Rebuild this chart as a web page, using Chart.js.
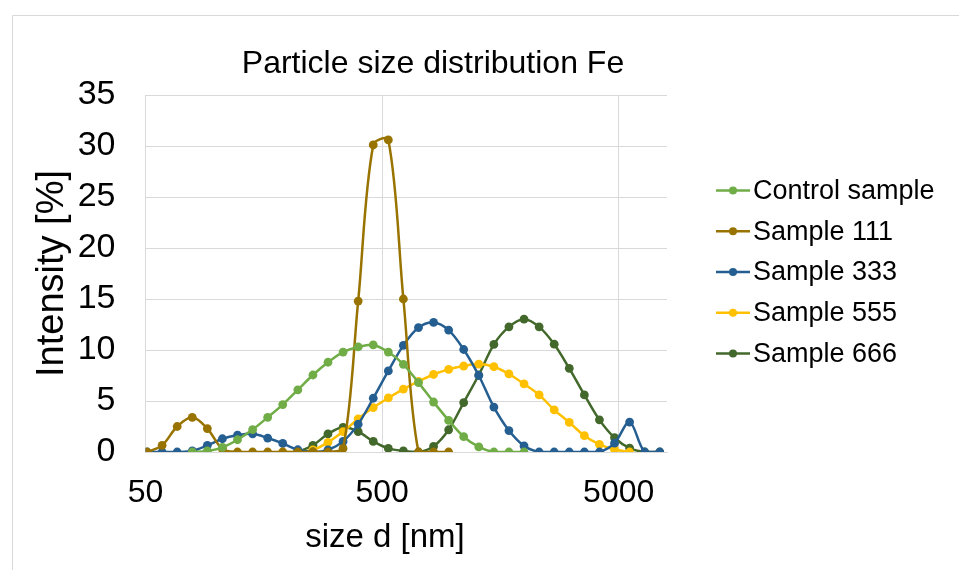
<!DOCTYPE html>
<html>
<head>
<meta charset="utf-8">
<title>Particle size distribution Fe</title>
<script src="https://cdn.jsdelivr.net/npm/chart.js@4/dist/chart.umd.min.js"></script>
<style>
  html, body { margin: 0; padding: 0; background: #ffffff; }
  #wrap { width: 959px; height: 570px; }
</style>
</head>
<body>
<div id="wrap"><canvas id="psd" width="959" height="570"></canvas></div>
<script>
// Size classes d [nm] (logarithmic bins)
const sizes = [50.75, 58.77, 68.06, 78.82, 91.28, 105.7, 122.4, 141.8, 164.2, 190.1,
               220.2, 255.0, 295.3, 342.0, 396.1, 458.7, 531.2, 615.1, 712.4, 825.0,
               955.4, 1106, 1281, 1484, 1718, 1990, 2305, 2669, 3091, 3580,
               4145, 4801, 5560, 6439, 7456];

// Intensity [%] per size class; null = no reading in that class
const controlSample = [null, null, null, 0, 0.1, 0.45, 1.2, 2.2, 3.4, 4.65,
                       6.1, 7.55, 8.8, 9.8, 10.3, 10.5, 9.8, 8.6, 6.8, 4.9,
                       3.1, 1.5, 0.5, 0, 0, 0, null, null, null, null,
                       null, null, null, null, null];
const sample111 = [0, 0.65, 2.5, 3.4, 2.3, 0.3, 0, 0, 0, 0,
                   0, 0, 0, 0.35, 14.8, 30.1, 30.6, 15.0, 0, 0,
                   0, null, null, null, null, null, null, null, null, null,
                   null, null, null, null, null];
const sample333 = [0, 0, 0, 0.1, 0.65, 1.3, 1.65, 1.78, 1.37, 0.84,
                   0.22, 0, 0.2, 1.04, 2.73, 5.27, 7.95, 10.45, 12.2, 12.7,
                   11.95, 10.05, 7.5, 4.4, 2.1, 0.6, 0, 0, 0, 0,
                   0, 0.87, 2.93, 0, 0];
const sample555 = [null, null, null, null, null, null, null, null, null, 0,
                   0, 0.2, 0.95, 2.0, 3.25, 4.36, 5.3, 6.17, 6.93, 7.6,
                   8.1, 8.43, 8.62, 8.36, 7.65, 6.67, 5.6, 4.13, 2.9, 1.6,
                   0.75, 0.25, 0, null, null];
const sample666 = [null, null, null, null, null, null, null, null, null, null,
                   0, 0.65, 1.77, 2.42, 2.0, 1.04, 0.35, 0.1, 0, 0.55,
                   2.18, 4.85, 7.55, 10.55, 12.27, 13.02, 12.27, 10.57, 8.2, 5.6,
                   3.15, 1.4, 0.38, 0, 0];

const seriesNames = ['Control sample', 'Sample 111', 'Sample 333', 'Sample 555', 'Sample 666'];
const seriesValues = [controlSample, sample111, sample333, sample555, sample666];
const seriesColors = ['#70AD47', '#997300', '#255E91', '#FFC000', '#43682B'];

const xTickValues = [50, 500, 5000];
const yTickStep = 5;

const FONT = "'Liberation Sans', Arial, sans-serif";

function toPoints(values) {
  const pts = [];
  values.forEach((v, i) => { if (v !== null) pts.push({ x: sizes[i], y: v }); });
  return pts;
}

const datasets = seriesNames.map((name, k) => ({
  label: name,
  data: toPoints(seriesValues[k]),
  borderColor: seriesColors[k],
  backgroundColor: seriesColors[k],
  borderWidth: 2.5,
  pointRadius: 4.4,
  pointHoverRadius: 4.4,
  pointBorderWidth: 0,
  tension: 0.33,
  fill: false
}));

// Outer frame of the chart object (left and top edges)
const framePlugin = {
  id: 'frame',
  beforeDraw(chart) {
    const ctx = chart.ctx;
    ctx.save();
    ctx.fillStyle = '#ffffff';
    ctx.fillRect(0, 0, chart.width, chart.height);
    ctx.strokeStyle = '#d9d9d9';
    ctx.lineWidth = 1;
    ctx.beginPath();
    ctx.moveTo(12.5, chart.height);
    ctx.lineTo(12.5, 15.5);
    ctx.lineTo(chart.width, 15.5);
    ctx.stroke();
    ctx.restore();
  }
};

// Chart title and horizontal axis title
const titlesPlugin = {
  id: 'titles',
  afterDraw(chart) {
    const ctx = chart.ctx;
    ctx.save();
    ctx.fillStyle = '#000000';
    ctx.textAlign = 'center';
    ctx.textBaseline = 'middle';
    ctx.font = '32px ' + FONT;
    ctx.fillText('Particle size distribution Fe', 433, 64);
    ctx.font = '33px ' + FONT;
    ctx.fillText('size d [nm]', 385, 538);
    ctx.restore();
  }
};

// Legend on the right: line with marker, then series name
const legendPlugin = {
  id: 'lineLegend',
  afterDraw(chart) {
    const ctx = chart.ctx;
    const area = chart.chartArea;
    const rowGap = 40.8;
    const n = chart.data.datasets.length;
    const x0 = area.right + 49;
    const yMid = (area.top + area.bottom) / 2;
    ctx.save();
    chart.data.datasets.forEach((ds, i) => {
      const y = yMid + (i - (n - 1) / 2) * rowGap - 1.5;
      ctx.strokeStyle = ds.borderColor;
      ctx.lineWidth = 2.5;
      ctx.beginPath();
      ctx.moveTo(x0, y);
      ctx.lineTo(x0 + 34, y);
      ctx.stroke();
      ctx.fillStyle = ds.borderColor;
      ctx.beginPath();
      ctx.arc(x0 + 17, y, 4, 0, Math.PI * 2);
      ctx.fill();
      ctx.fillStyle = '#000000';
      ctx.font = '27px ' + FONT;
      ctx.textAlign = 'left';
      ctx.textBaseline = 'middle';
      ctx.fillText(ds.label, x0 + 37, y + 1);
    });
    ctx.restore();
  }
};

new Chart(document.getElementById('psd'), {
  type: 'line',
  data: { datasets },
  options: {
    responsive: false,
    animation: false,
    devicePixelRatio: 1,
    layout: { padding: { left: 30, top: 95, right: 292, bottom: 0 } },
    plugins: {
      legend: { display: false },
      title: { display: false },
      tooltip: { enabled: false }
    },
    scales: {
      x: {
        type: 'logarithmic',
        min: 50,
        max: 8000,
        afterBuildTicks(scale) {
          scale.ticks = xTickValues.map(v => ({ value: v }));
        },
        afterFit(scale) { scale.height = 118; },
        ticks: {
          autoSkip: false,
          maxRotation: 0,
          padding: 22,
          color: '#000000',
          font: { family: FONT, size: 32 },
          callback: (v) => String(v)
        },
        grid: { color: '#d9d9d9', lineWidth: 1, drawTicks: false },
        border: { display: true, color: '#d9d9d9', width: 1 }
      },
      y: {
        type: 'linear',
        min: 0,
        max: 35,
        afterFit(scale) { scale.width = 115.5; },
        ticks: {
          stepSize: yTickStep,
          padding: 30,
          color: '#000000',
          font: { family: FONT, size: 34 }
        },
        grid: { color: '#d9d9d9', lineWidth: 1, drawTicks: false },
        border: { display: false },
        title: {
          display: true,
          text: 'Intensity [%]',
          color: '#000000',
          font: { family: FONT, size: 38 },
          padding: { top: 0, bottom: 0 }
        }
      }
    }
  },
  plugins: [framePlugin, titlesPlugin, legendPlugin]
});
</script>
</body>
</html>
